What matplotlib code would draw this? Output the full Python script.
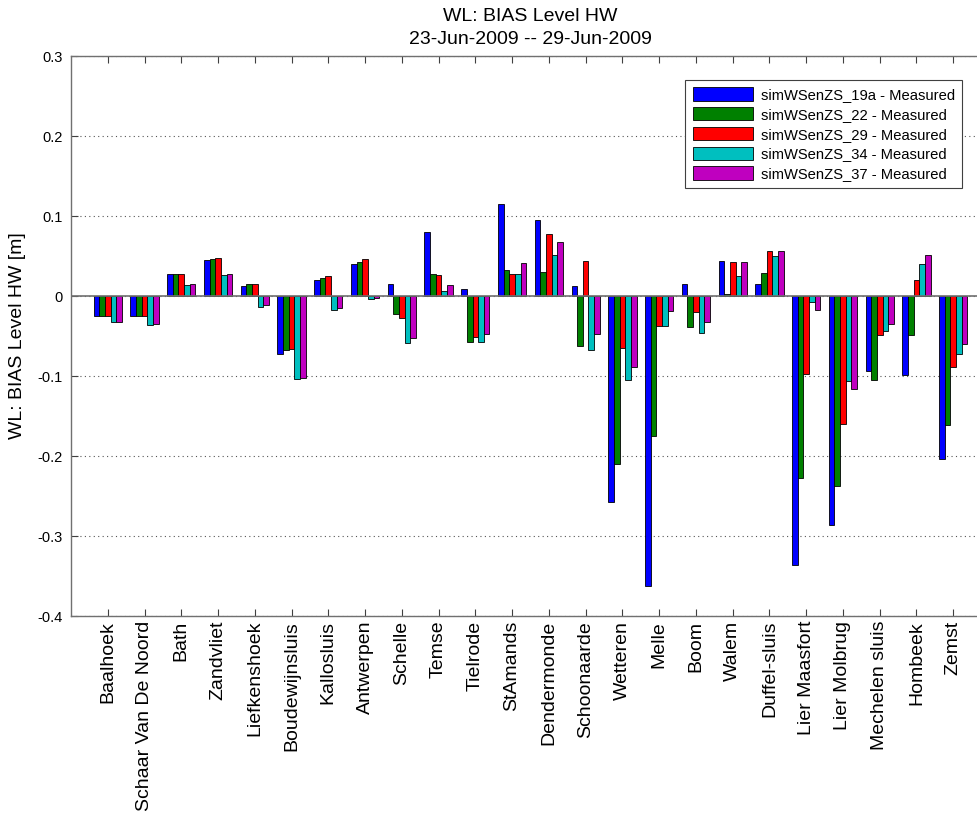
import numpy as np
import matplotlib
matplotlib.use("Agg")
import matplotlib.pyplot as plt
from matplotlib.ticker import FixedLocator, FixedFormatter

stations = ["Baalhoek", "Schaar Van De Noord", "Bath", "Zandvliet", "Liefkenshoek",
            "Boudewijnsluis", "Kallosluis", "Antwerpen", "Schelle", "Temse", "Tielrode",
            "StAmands", "Dendermonde", "Schoonaarde", "Wetteren", "Melle", "Boom",
            "Walem", "Duffel-sluis", "Lier Maasfort", "Lier Molbrug", "Mechelen sluis",
            "Hombeek", "Zemst"]

sim_19a = [-0.025, -0.025, 0.0275, 0.0445, 0.0125, -0.072, 0.0195, 0.040, 0.0155, 0.080,
           0.0085, 0.1145, 0.0945, 0.0125, -0.257, -0.362, 0.0155, 0.044, 0.0155, -0.336,
           -0.286, -0.094, -0.0985, -0.2035]
sim_22 = [-0.025, -0.025, 0.028, 0.0465, 0.015, -0.068, 0.023, 0.0425, -0.023, 0.028,
          -0.057, 0.032, 0.030, -0.063, -0.210, -0.175, -0.039, 0.0025, 0.029, -0.228,
          -0.2375, -0.105, -0.0485, -0.161]
sim_29 = [-0.025, -0.025, 0.0275, 0.047, 0.015, -0.066, 0.0245, 0.046, -0.028, 0.026,
          -0.0515, 0.028, 0.078, 0.044, -0.065, -0.037, -0.020, 0.042, 0.056, -0.097,
          -0.160, -0.0485, 0.020, -0.0885]
sim_34 = [-0.032, -0.036, 0.014, 0.026, -0.014, -0.104, -0.018, -0.004, -0.059, 0.0065,
          -0.058, 0.028, 0.051, -0.067, -0.105, -0.038, -0.046, 0.025, 0.050, -0.008,
          -0.1065, -0.044, 0.0395, -0.073]
sim_37 = [-0.032, -0.0345, 0.015, 0.028, -0.011, -0.1025, -0.015, -0.002, -0.0527, 0.0135,
          -0.047, 0.0415, 0.067, -0.048, -0.089, -0.019, -0.033, 0.042, 0.056, -0.017,
          -0.116, -0.035, 0.051, -0.060]

series_labels = ["simWSenZS_19a - Measured", "simWSenZS_22 - Measured",
                 "simWSenZS_29 - Measured", "simWSenZS_34 - Measured",
                 "simWSenZS_37 - Measured"]
series = [sim_19a, sim_22, sim_29, sim_34, sim_37]
colors = [(0, 0, 1), (0, 0.5, 0), (1, 0, 0), (0, 0.75, 0.75), (0.75, 0, 0.75)]

yticks = [0.3, 0.2, 0.1, 0, -0.1, -0.2, -0.3, -0.4]
ytick_labels = ["0.3", "0.2", "0.1", "0", "-0.1", "-0.2", "-0.3", "-0.4"]

plt.rcParams['font.family'] = ['Liberation Sans', 'DejaVu Sans']

W, H = 978, 817
fig = plt.figure(figsize=(W / 100, H / 100), dpi=100)
left, right, top, bottom = 71, 990, 56, 616
ax = fig.add_axes([left / W, 1 - bottom / H, (right - left) / W, (bottom - top) / H])

n = len(series)
x = np.arange(1, len(stations) + 1)
group_w = 0.769
slot = group_w / n
for i, (vals, c, lab) in enumerate(zip(series, colors, series_labels)):
    off = -group_w / 2 + (i + 0.5) * slot
    ax.bar(x + off, vals, width=slot, color=c, edgecolor='black', linewidth=0.6,
           label=lab, zorder=3)

ax.axhline(0, color='#707070', linewidth=1.2, zorder=4)
ax.set_xlim(0, len(stations) + 1)
ax.set_ylim(-0.4, 0.3)
ax.yaxis.set_major_locator(FixedLocator(yticks))
ax.yaxis.set_major_formatter(FixedFormatter(ytick_labels))
ax.set_xticks(x)
ax.set_xticklabels(stations, rotation=90, fontsize=14)
ax.tick_params(axis='y', labelsize=10.5, pad=6)
ax.tick_params(direction='in', top=True, right=True, length=5, color='#404040',
               width=0.8)
ax.grid(axis='y', linestyle=(0, (1, 3)), color='#555555', linewidth=0.8, zorder=0)
for s in ax.spines.values():
    s.set_color('#707070')
    s.set_linewidth(1.0)

ax.set_ylabel("WL: BIAS Level HW [m]", fontsize=14, labelpad=8)
ax.set_title("WL: BIAS Level HW\n23-Jun-2009 -- 29-Jun-2009", fontsize=14,
             linespacing=1.45, pad=9)

leg = ax.legend(loc='upper right', bbox_to_anchor=((962 - left) / (right - left),
                                                     (bottom - 80) / (bottom - top)),
                borderaxespad=0, fontsize=10.6, fancybox=False, framealpha=1,
                edgecolor='#404040', handlelength=4.1, handleheight=1.0,
                labelspacing=0.35, borderpad=0.5, handletextpad=0.5)
leg.get_frame().set_linewidth(0.8)

fig.savefig("out.png", dpi=100)
